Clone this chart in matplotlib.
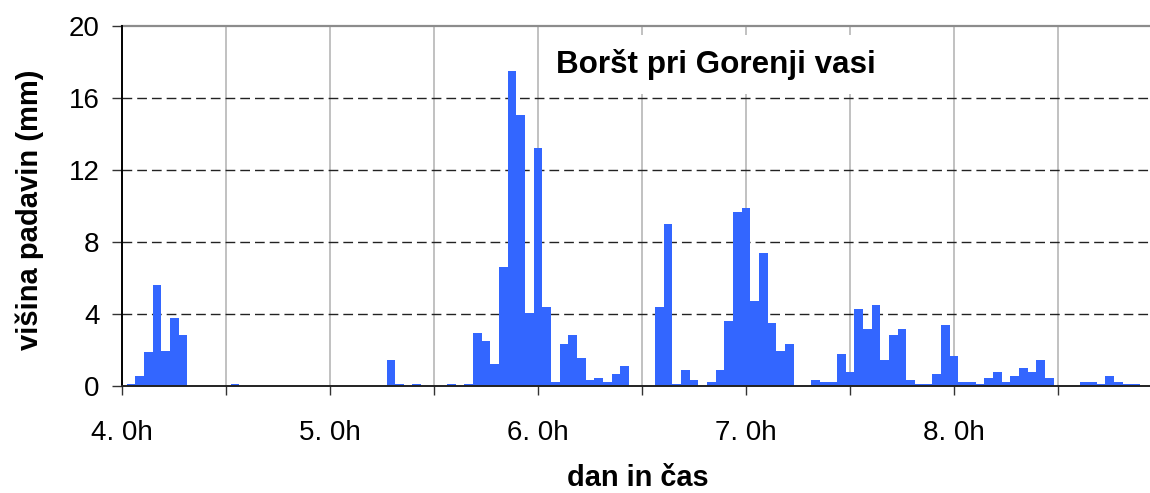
import numpy as np
import matplotlib
matplotlib.use("Agg")
import matplotlib.pyplot as plt

plt.rcParams['font.family'] = ['Liberation Sans', 'DejaVu Sans']

# hour index (bar centre = day 4 + hour/24) and rainfall (mm)
hours = [1, 2, 3, 4, 5, 6, 7, 13, 31, 32, 34, 38, 40,
         41, 42, 43, 44, 45, 46, 47, 48, 49, 50, 51, 52, 53, 54, 55, 56, 57, 58,
         62, 63, 64, 65, 66, 68, 69, 70, 71, 72, 73, 74, 75, 76, 77,
         80, 81, 82, 83, 84, 85, 86, 87, 88, 89, 90, 91, 92, 93, 94, 95, 96,
         97, 98, 99, 100, 101, 102, 103, 104, 105, 106, 107,
         111, 112, 113, 114, 115, 116, 117]
rain = [0.1, 0.55, 1.9, 5.6, 1.95, 3.75, 2.8, 0.1, 1.45, 0.1, 0.1, 0.1, 0.1,
        2.93, 2.5, 1.22, 6.6, 17.48, 15.04, 4.04, 13.2, 4.37, 0.2, 2.32, 2.82, 1.54, 0.32, 0.43, 0.2, 0.65, 1.09,
        4.37, 9.0, 0.1, 0.87, 0.32, 0.2, 0.87, 3.6, 9.65, 9.87, 4.7, 7.37, 3.48, 1.93, 2.32,
        0.32, 0.2, 0.2, 1.76, 0.76, 4.26, 3.15, 4.48, 1.43, 2.82, 3.15, 0.32, 0.1, 0.1, 0.65, 3.37, 1.65,
        0.2, 0.2, 0.1, 0.43, 0.76, 0.2, 0.54, 0.98, 0.76, 1.43, 0.43,
        0.2, 0.2, 0.1, 0.54, 0.2, 0.1, 0.1]

x_ticks = [4.0, 4.5, 5.0, 5.5, 6.0, 6.5, 7.0, 7.5, 8.0, 8.5]
x_labels = ["4. 0h", "", "5. 0h", "", "6. 0h", "", "7. 0h", "", "8. 0h", ""]
y_ticks = [0, 4, 8, 12, 16, 20]

title = "Boršt pri Gorenji vasi"
ylabel = "višina padavin (mm)"
xlabel = "dan in čas"

W, H = 1150, 493
fig = plt.figure(figsize=(W / 100, H / 100), dpi=100)
ax = fig.add_axes([122.3 / W, 1 - 385.7 / H, 1 - 122.3 / W, (385.7 - 25.7) / H])

xs = 4 + np.array(hours) / 24.0
ax.bar(xs, rain, width=1 / 24.0, color='#3366FF', linewidth=0, zorder=3)

ax.set_xlim(4.0, 4.0 + (W - 122.3) / 207.9)
ax.set_ylim(0, 20)

ax.set_xticks(x_ticks)
ax.set_xticklabels(x_labels)
ax.set_yticks(y_ticks)

for xv in x_ticks[1:]:
    ax.axvline(xv, color='#b0b0b0', lw=1.1, zorder=1)
for yv in y_ticks[1:-1]:
    ax.axhline(yv, color='#222222', lw=1.0, dashes=(7, 3.6), zorder=1)

ax.spines['right'].set_visible(False)
ax.spines['top'].set_color('#8c8c8c')
ax.spines['top'].set_linewidth(1.6)
ax.spines['left'].set_color('black')
ax.spines['left'].set_linewidth(1.4)
ax.spines['bottom'].set_color('#222222')
ax.spines['bottom'].set_linewidth(1.4)
ax.spines['left'].set_zorder(4)
ax.spines['bottom'].set_zorder(4)

ax.tick_params(axis='x', direction='out', length=6.5, width=1.0, color='#333333',
               labelsize=20, pad=18)
ax.tick_params(axis='y', direction='out', length=7, width=1.0, color='#333333',
               labelsize=20, pad=9.5)

fig.text(556 / W, 1 - 73.3 / H, title, fontsize=22.6, fontweight='bold',
         ha='left', va='baseline', zorder=5,
         bbox=dict(boxstyle='square,pad=0.45', facecolor='white', edgecolor='none'))

fig.text(30 / W, 1 - 210 / H, ylabel, fontsize=21, fontweight='bold',
         rotation=90, ha='center', va='center')
fig.text(638 / W, 1 - 478 / H, xlabel, fontsize=20.9, fontweight='bold',
         ha='center', va='center')

fig.savefig('out.png', dpi=100)
